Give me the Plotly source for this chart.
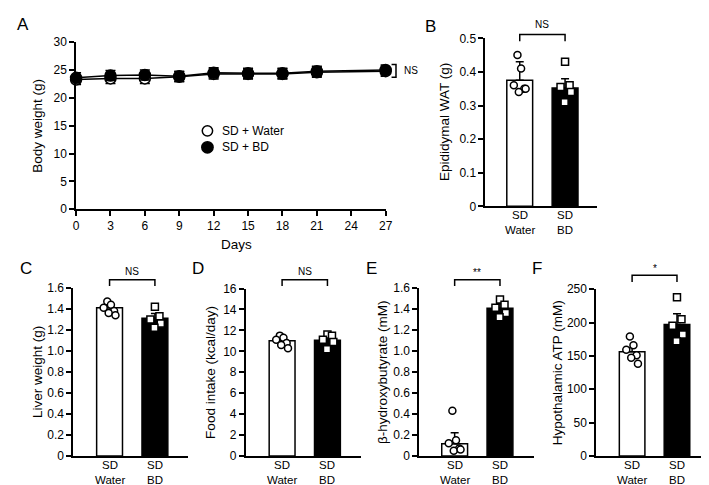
import plotly.graph_objects as go

W, H = 709, 485
FONT = "Liberation Sans, Arial, sans-serif"

# ---------------- data ----------------
# Panel A: body weight over time
days = [0, 3, 6, 9, 12, 15, 18, 21, 27]
bw_water = [23.3, 23.5, 23.5, 23.8, 24.3, 24.3, 24.3, 24.6, 24.8]
bw_water_sem = [0.9, 0.9, 0.9, 0.9, 0.9, 0.9, 0.9, 0.9, 0.9]
bw_bd = [23.6, 24.0, 24.1, 23.9, 24.5, 24.4, 24.4, 24.8, 25.0]
bw_bd_sem = [0.9, 0.9, 0.9, 0.9, 0.9, 0.9, 0.9, 0.9, 0.9]
day_ticks = [0, 3, 6, 9, 12, 15, 18, 21, 24, 27]
bw_ticks = [0, 5, 10, 15, 20, 25, 30]

group_line1 = ["SD", "SD"]
group_line2 = ["Water", "BD"]
group_pos = [1, 2]

# Panel B: epididymal WAT (g)
wat_mean = [0.375, 0.352]
wat_sem = [0.055, 0.028]
wat_water = [0.45, 0.41, 0.36, 0.35, 0.34, 0.35]
wat_bd = [0.43, 0.36, 0.355, 0.34, 0.31]
wat_ticks = [0, 0.1, 0.2, 0.3, 0.4, 0.5]
wat_ticktext = ["0", "0.1", "0.2", "0.3", "0.4", "0.5"]

# Panel C: liver weight (g)
liver_mean = [1.41, 1.31]
liver_sem = [0.04, 0.045]
liver_water = [1.47, 1.44, 1.41, 1.38, 1.36, 1.34]
liver_bd = [1.42, 1.33, 1.30, 1.26, 1.22]
liver_ticks = [0, 0.2, 0.4, 0.6, 0.8, 1.0, 1.2, 1.4, 1.6]
liver_ticktext = ["0", "0.2", "0.4", "0.6", "0.8", "1.0", "1.2", "1.4", "1.6"]

# Panel D: food intake (kcal/day)
food_mean = [11.0, 11.06]
food_sem = [0.2, 0.25]
food_water = [11.5, 11.3, 11.1, 10.8, 10.6, 10.3]
food_bd = [11.6, 11.5, 11.1, 10.9, 10.2]
food_ticks = [0, 2, 4, 6, 8, 10, 12, 14, 16]
food_ticktext = ["0", "2", "4", "6", "8", "10", "12", "14", "16"]

# Panel E: beta-hydroxybutyrate (mM)
bhb_mean = [0.115, 1.405]
bhb_sem = [0.105, 0.045]
bhb_water = [0.43, 0.15, 0.12, 0.07, 0.05, 0.06]
bhb_bd = [1.49, 1.44, 1.41, 1.36, 1.32]
bhb_ticks = liver_ticks
bhb_ticktext = liver_ticktext

# Panel F: hypothalamic ATP (mM)
atp_mean = [156, 197]
atp_sem = [6, 16]
atp_water = [179, 166, 159, 151, 147, 138]
atp_bd = [238, 205, 195, 182, 172]
atp_ticks = [0, 50, 100, 150, 200, 250]
atp_ticktext = ["0", "50", "100", "150", "200", "250"]

# ---------------- helpers ----------------
JIT6 = [-0.05, 0.03, -0.13, 0.10, -0.02, 0.13]
JIT5 = [0.0, 0.10, -0.10, 0.13, -0.01]


def px(x):
    return x / W


def py(y):
    return 1 - y / H


fig = go.Figure()
layout = dict(
    width=W, height=H,
    margin=dict(l=0, r=0, t=0, b=0),
    paper_bgcolor="white", plot_bgcolor="white",
    showlegend=False,
    font=dict(family=FONT, size=12, color="black"),
)
annotations = []
shapes = []

axis_common = dict(
    showline=True, linecolor="black", linewidth=1.5,
    showgrid=False, zeroline=False,
    ticks="outside", ticklen=5, tickwidth=1.5, tickcolor="black",
    tickfont=dict(family=FONT, size=12, color="black"),
)


def ann(text, x, y, size=12, angle=0, xanchor="center", yanchor="middle"):
    annotations.append(dict(
        text=text, x=x, y=y, xref="paper", yref="paper",
        showarrow=False, textangle=angle,
        xanchor=xanchor, yanchor=yanchor,
        font=dict(family=FONT, size=size, color="black"),
    ))


# ---------------- Panel A ----------------
layout["xaxis"] = dict(axis_common, domain=[px(66), px(380)], range=[0, 27],
                       tickvals=day_ticks, anchor="y")
layout["yaxis"] = dict(axis_common, domain=[py(200), py(28)], range=[0, 30],
                       tickvals=bw_ticks, anchor="x")

fig.add_trace(go.Scatter(
    x=days, y=bw_water, mode="lines+markers", xaxis="x", yaxis="y",
    line=dict(color="black", width=1.5),
    marker=dict(size=11, color="white", line=dict(color="black", width=1.5)),
    error_y=dict(type="data", array=bw_water_sem, color="black", thickness=1.5, width=5),
    cliponaxis=False,
))
fig.add_trace(go.Scatter(
    x=days, y=bw_bd, mode="lines+markers", xaxis="x", yaxis="y",
    line=dict(color="black", width=1.5),
    marker=dict(size=11, color="black", line=dict(color="black", width=1.5)),
    error_y=dict(type="data", array=bw_bd_sem, color="black", thickness=1.5, width=5),
    cliponaxis=False,
))

ann("Days", px(229), py(236), size=13.5)
ann("Body weight (g)", px(27.5), py(114), size=13.5, angle=-90)
ann("A", px(12), py(10), size=17)

# legend
shapes.append(dict(type="circle", xref="paper", yref="paper",
                   x0=px(194), x1=px(204.5), y0=py(124.5), y1=py(114),
                   line=dict(color="black", width=1.5), fillcolor="white"))
shapes.append(dict(type="circle", xref="paper", yref="paper",
                   x0=px(193.5), x1=px(205), y0=py(142), y1=py(130.5),
                   line=dict(color="black", width=1.5), fillcolor="black"))
ann("SD + Water", px(212), py(119), size=12, xanchor="left")
ann("SD + BD", px(212), py(136), size=12, xanchor="left")

# NS bracket for panel A
shapes.append(dict(type="path", xref="paper", yref="paper",
                   path=f"M {px(386)},{py(51)} L {px(390.5)},{py(51)} L {px(390.5)},{py(64)} L {px(386)},{py(64)}",
                   line=dict(color="black", width=1.5)))
ann("NS", px(397), py(57.5), size=10, xanchor="left")


# ---------------- bar panels ----------------
def bar_panel(i, letter, means, sems, water_pts, bd_pts, xdom, ydom, xrange, yrange,
              tickvals, ticktext, ytitle, ytitle_x, letter_xy, sig, br_y, br_tick, sig_y):
    xa = f"x{i}"
    ya = f"y{i}"
    layout[f"xaxis{i}"] = dict(axis_common, domain=[px(xdom[0]), px(xdom[1])], range=xrange,
                               tickvals=group_pos, showticklabels=False, ticks="",
                               anchor=ya)
    layout[f"yaxis{i}"] = dict(axis_common, domain=[py(ydom[0]), py(ydom[1])], range=yrange,
                               tickvals=tickvals, ticktext=ticktext, anchor=xa)
    fig.add_trace(go.Bar(
        x=group_pos, y=means, xaxis=xa, yaxis=ya, width=0.57,
        marker=dict(color=["white", "black"], line=dict(color="black", width=1.5)),
        error_y=dict(type="data", array=sems, arrayminus=[0, 0], symmetric=False,
                     color="black", thickness=1.5, width=4),
    ))
    fig.add_trace(go.Scatter(
        x=[group_pos[0] + j for j in JIT6[:len(water_pts)]], y=water_pts,
        xaxis=xa, yaxis=ya, mode="markers", cliponaxis=False,
        marker=dict(symbol="circle", size=7, color="white", line=dict(color="black", width=1.5)),
    ))
    fig.add_trace(go.Scatter(
        x=[group_pos[1] + j for j in JIT5[:len(bd_pts)]], y=bd_pts,
        xaxis=xa, yaxis=ya, mode="markers", cliponaxis=False,
        marker=dict(symbol="square", size=7, color="white", line=dict(color="black", width=1.5)),
    ))
    # category labels (two lines)
    split = ydom[0] + 17
    for k in range(2):
        annotations.append(dict(text=group_line1[k], x=group_pos[k], y=py(split - 0.5),
                                xref=xa, yref="paper", showarrow=False,
                                xanchor="center", yanchor="bottom", borderpad=0,
                                font=dict(family=FONT, size=11.5, color="black")))
        annotations.append(dict(text=group_line2[k], x=group_pos[k], y=py(split + 0.5),
                                xref=xa, yref="paper", showarrow=False,
                                xanchor="center", yanchor="top", borderpad=0,
                                font=dict(family=FONT, size=11.5, color="black")))
    # significance bracket
    shapes.append(dict(type="path", xref=xa, yref="paper",
                       path=f"M {group_pos[0]},{py(br_tick)} L {group_pos[0]},{py(br_y)} "
                            f"L {group_pos[1]},{py(br_y)} L {group_pos[1]},{py(br_tick)}",
                       line=dict(color="black", width=1.5)))
    annotations.append(dict(text=sig, x=1.5, y=py(sig_y), xref=xa, yref="paper",
                            showarrow=False, xanchor="center", yanchor="middle",
                            font=dict(family=FONT, size=10, color="black")))
    ann(ytitle, px(ytitle_x), py((ydom[0] + ydom[1]) / 2), size=13.5, angle=-90)
    ann(letter, px(letter_xy[0]), py(letter_xy[1]), size=17)


bar_panel(2, "B", wat_mean, wat_sem, wat_water, wat_bd,
          (481, 594), (197, 24), [0.239, 2.696], [0, 0.5],
          wat_ticks, wat_ticktext, "Epididymal WAT (g)", 440, (425, 12),
          "NS", 20, 27, 10)
bar_panel(3, "C", liver_mean, liver_sem, liver_water, liver_bd,
          (63, 180), (454, 281), [0.196, 2.74], [0, 1.6],
          liver_ticks, liver_ticktext, "Liver weight (g)", 27.5, (15, 261),
          "NS", 272.7, 279, 264)
bar_panel(4, "D", food_mean, food_sem, food_water, food_bd,
          (238, 355), (454, 281.7), [0.196, 2.74], [0, 16],
          food_ticks, food_ticktext, "Food intake (kcal/day)", 202.5, (190, 261),
          "NS", 272.7, 279, 264)
bar_panel(5, "E", bhb_mean, bhb_sem, bhb_water, bhb_bd,
          (414, 530), (454, 281), [0.217, 2.74], [0, 1.6],
          bhb_ticks, bhb_ticktext, "β-hydroxybutyrate (mM)", 377.5, (366, 261),
          "**", 272.7, 279, 265)
bar_panel(6, "F", atp_mean, atp_sem, atp_water, atp_bd,
          (593.5, 708), (454, 282.3), [0.198, 2.714], [0, 250],
          atp_ticks, atp_ticktext, "Hypothalamic ATP (mM)", 554.5, (534, 261),
          "*", 268, 275, 261)

layout["annotations"] = annotations
layout["shapes"] = shapes
fig.update_layout(**layout)
fig.write_html("out.html")
